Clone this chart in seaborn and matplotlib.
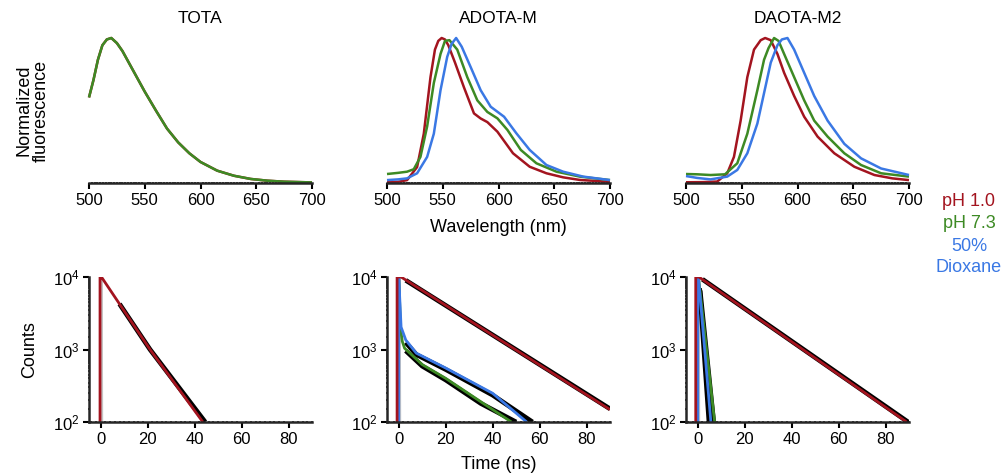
import numpy as np
import matplotlib
matplotlib.use("Agg")
import matplotlib.pyplot as plt
import seaborn as sns
from matplotlib.ticker import MultipleLocator, LogLocator, NullFormatter

RED = "#a3141f"
GREEN = "#3d8a24"
BLUE = "#3a78e4"
GREY = "#c4c4c4"

titles = ["TOTA", "ADOTA-M", "DAOTA-M2"]
legend_labels = ["pH 1.0", "pH 7.3", "50%", "Dioxane"]

# --- emission spectra (nm, normalized) ---
tota_nm = [500, 504, 508, 512, 516, 520, 525, 530, 540, 550, 560, 570, 580, 590,
           600, 615, 630, 645, 660, 675, 700]
tota_int = [0.59, 0.71, 0.85, 0.95, 0.99, 1.0, 0.965, 0.91, 0.77, 0.63, 0.50, 0.375,
            0.28, 0.205, 0.145, 0.085, 0.05, 0.028, 0.016, 0.009, 0.004]

adota_red_nm = [500, 510, 518, 527, 533, 539, 543, 546, 549, 552, 555, 561, 569, 578,
                584, 590, 599, 613, 628, 643, 658, 673, 700]
adota_red = [0.005, 0.008, 0.02, 0.11, 0.34, 0.73, 0.92, 0.98, 1.0, 0.99, 0.95, 0.83,
             0.66, 0.48, 0.445, 0.42, 0.354, 0.205, 0.112, 0.067, 0.039, 0.021, 0.008]
adota_green_nm = [500, 510, 518, 524, 530, 536, 542, 548, 552, 556, 563, 572, 581,
                  590, 599, 608, 620, 634, 652, 673, 700]
adota_green = [0.062, 0.07, 0.078, 0.095, 0.18, 0.39, 0.69, 0.89, 0.98, 0.985, 0.92,
               0.73, 0.57, 0.49, 0.446, 0.366, 0.228, 0.136, 0.078, 0.044, 0.02]
adota_blue_nm = [500, 510, 518, 527, 536, 542, 548, 554, 558, 562, 567, 575, 584,
                 593, 605, 616, 628, 643, 658, 676, 700]
adota_blue = [0.02, 0.025, 0.032, 0.067, 0.18, 0.34, 0.64, 0.87, 0.96, 1.0, 0.94, 0.80,
              0.64, 0.526, 0.457, 0.343, 0.228, 0.124, 0.078, 0.044, 0.02]

daota_red_nm = [500, 515, 528, 537, 543, 549, 555, 561, 567, 571, 576, 582, 588, 597,
                606, 618, 633, 651, 669, 685, 700]
daota_red = [0.005, 0.006, 0.01, 0.067, 0.18, 0.43, 0.73, 0.92, 0.985, 1.0, 0.985,
             0.89, 0.76, 0.60, 0.457, 0.32, 0.205, 0.112, 0.055, 0.032, 0.02]
daota_green_nm = [500, 510, 522, 535, 546, 555, 564, 570, 574, 579, 583, 588, 597,
                  606, 615, 627, 642, 657, 675, 700]
daota_green = [0.062, 0.06, 0.055, 0.06, 0.136, 0.34, 0.64, 0.85, 0.93, 1.0, 0.98,
               0.89, 0.73, 0.57, 0.43, 0.32, 0.205, 0.124, 0.067, 0.044]
daota_blue_nm = [500, 510, 522, 537, 546, 555, 564, 570, 576, 582, 586, 591, 597,
                 606, 615, 627, 642, 657, 675, 700]
daota_blue = [0.048, 0.035, 0.025, 0.044, 0.09, 0.205, 0.41, 0.62, 0.83, 0.95, 0.99,
              1.0, 0.92, 0.76, 0.60, 0.43, 0.27, 0.17, 0.10, 0.055]

# --- fluorescence decays (ns, counts) ---
irf_t = [0.1, 0.35, 0.6]
irf_counts = [50, 10000, 50]

tota_fit_t = [-0.3, -0.3, 0.3, 21, 43.5]
tota_fit = [50, 10000, 10000, 1000, 100]
tota_data_t = [8, 21, 44.5]
tota_data = [4250, 1000, 100]

adota_red_fit_t = [-0.7, -0.7, 1.0, 90]
adota_red_fit = [50, 10000, 10000, 148]
adota_red_data_t = [3, 90]
adota_red_data = [9000, 152]
adota_blue_fit_t = [0.0, 0.0, 1.0, 3, 7.5, 20, 40, 54.5]
adota_blue_fit = [50, 10000, 2040, 1350, 890, 555, 249, 100]
adota_blue_data_t = [3, 7.5, 20, 40, 57]
adota_blue_data = [1250, 850, 530, 235, 100]
adota_green_fit_t = [0.0, 0.8, 1.5, 2.5, 10, 20, 35, 48]
adota_green_fit = [10000, 1900, 1300, 1040, 620, 400, 190, 100]
adota_green_data_t = [3, 10, 20, 35, 50]
adota_green_data = [960, 590, 380, 180, 100]

daota_red_fit_t = [-0.85, -0.85, 0.5, 89]
daota_red_fit = [50, 10000, 10000, 100]
daota_red_data_t = [2, 90]
daota_red_data = [9300, 98]
daota_blue_fit_t = [0.0, 0.0, 0.3, 5.6]
daota_blue_fit = [50, 10000, 10000, 100]
daota_blue_data_t = [0.8, 4.8]
daota_blue_data = [7000, 100]
daota_green_fit_t = [0.3, 7.2]
daota_green_fit = [10000, 100]
daota_green_data_t = [1.0, 6.8]
daota_green_data = [6500, 100]

spectra = [
    [(tota_nm, tota_int, RED), (tota_nm, tota_int, GREEN)],
    [(adota_red_nm, adota_red, RED), (adota_green_nm, adota_green, GREEN),
     (adota_blue_nm, adota_blue, BLUE)],
    [(daota_red_nm, daota_red, RED), (daota_green_nm, daota_green, GREEN),
     (daota_blue_nm, daota_blue, BLUE)],
]
decay_data = [
    [(tota_data_t, tota_data)],
    [(adota_red_data_t, adota_red_data), (adota_green_data_t, adota_green_data),
     (adota_blue_data_t, adota_blue_data)],
    [(daota_red_data_t, daota_red_data), (daota_green_data_t, daota_green_data),
     (daota_blue_data_t, daota_blue_data)],
]
decay_fits = [
    [(tota_fit_t, tota_fit, RED)],
    [(adota_green_fit_t, adota_green_fit, GREEN), (adota_blue_fit_t, adota_blue_fit, BLUE),
     (adota_red_fit_t, adota_red_fit, RED)],
    [(daota_green_fit_t, daota_green_fit, GREEN), (daota_blue_fit_t, daota_blue_fit, BLUE),
     (daota_red_fit_t, daota_red_fit, RED)],
]

sns.set_theme(style="ticks")
plt.rcParams["font.family"] = ["Liberation Sans", "DejaVu Sans"]
plt.rcParams["mathtext.default"] = "regular"
plt.rcParams["text.color"] = "black"
plt.rcParams["axes.labelcolor"] = "black"
TICK_FS = 12
LAB_FS = 13


def line(ax, x, y, color, lw):
    sns.lineplot(x=x, y=y, ax=ax, color=color, lw=lw, sort=False, estimator=None,
                 legend=False, solid_capstyle="butt")


fig = plt.figure(figsize=(10.07, 4.76), dpi=100)
W, H = 1007, 476
lefts = [89, 387, 686]
aw = 223
ah = 145

for i in range(3):
    # top row: spectra
    ax = fig.add_axes([lefts[i] / W, 1 - 183 / H, aw / W, ah / H])
    for x, y, c in spectra[i]:
        line(ax, x, y, c, 1.8)
    for ln in ax.lines:
        ln.set_clip_on(False)
    ax.set_xlim(500, 700)
    ax.set_ylim(0, 1.0)
    ax.set_yticks([])
    ax.xaxis.set_major_locator(MultipleLocator(50))
    ax.xaxis.set_minor_locator(MultipleLocator(2.5))
    for s in ["left", "top", "right"]:
        ax.spines[s].set_visible(False)
    ax.spines["bottom"].set_linewidth(1.8)
    ax.tick_params(axis="x", which="major", length=4, width=1.5, labelsize=TICK_FS,
                   pad=3, colors="black")
    ax.tick_params(axis="x", which="minor", length=2, width=1.2, direction="inout")
    ax.set_title(titles[i], fontsize=12.5, pad=11, color="black")
    ax.set_xlabel("")
    ax.set_ylabel("")
    if i == 0:
        ax.set_ylabel("Normalized\nfluorescence", fontsize=LAB_FS, linespacing=1.0)
        ax.yaxis.set_label_coords(-0.175, 0.5)
    if i == 1:
        ax.set_xlabel("Wavelength (nm)", fontsize=LAB_FS)
        ax.xaxis.set_label_coords(0.5, -0.245)

    # bottom row: decays
    bx = fig.add_axes([lefts[i] / W, 1 - 422 / H, aw / W, ah / H])
    bx.set_yscale("log")
    line(bx, irf_t, irf_counts, GREY, 1.6)
    for x, y in decay_data[i]:
        line(bx, x, y, "black", 3.4)
    for x, y, c in decay_fits[i]:
        line(bx, x, y, c, 2.0)
    bx.set_xlim(-5, 90)
    bx.set_ylim(100, 10000)
    bx.xaxis.set_major_locator(MultipleLocator(20))
    bx.xaxis.set_minor_locator(MultipleLocator(2))
    bx.yaxis.set_major_locator(LogLocator(base=10, numticks=5))
    bx.yaxis.set_minor_locator(LogLocator(base=10, subs=np.arange(1.0, 10.0, 0.5),
                                          numticks=20))
    bx.yaxis.set_minor_formatter(NullFormatter())
    for s in ["top", "right"]:
        bx.spines[s].set_visible(False)
    for s in ["left", "bottom"]:
        bx.spines[s].set_linewidth(1.8)
    bx.tick_params(which="major", length=4, width=1.5, labelsize=TICK_FS, pad=3,
                   colors="black")
    bx.tick_params(which="minor", length=2, width=1.2, direction="inout")
    bx.set_xlabel("")
    bx.set_ylabel("")
    if i == 0:
        bx.set_ylabel("Counts", fontsize=LAB_FS)
        bx.yaxis.set_label_coords(-0.229, 0.5)
    if i == 1:
        bx.set_xlabel("Time (ns)", fontsize=LAB_FS)
        bx.xaxis.set_label_coords(0.5, -0.235)

legend_colors = [RED, GREEN, BLUE, BLUE]
legend_y = [202, 224, 246, 268]
for lab, c, yy in zip(legend_labels, legend_colors, legend_y):
    fig.text(969 / W, 1 - yy / H, lab, color=c, fontsize=LAB_FS, ha="center",
             va="center")

fig.savefig("out.png", dpi=100, facecolor="white")
plt.close(fig)
